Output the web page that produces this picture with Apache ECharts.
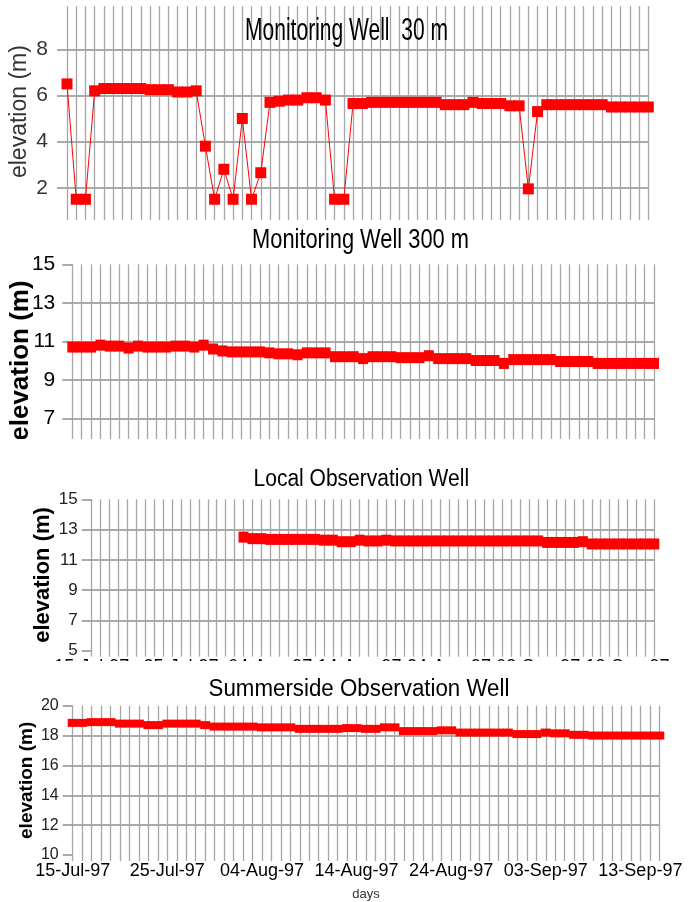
<!DOCTYPE html>
<html>
<head>
<meta charset="utf-8">
<script src="https://cdn.jsdelivr.net/npm/echarts@6/dist/echarts.min.js"></script>
<style>
html,body{margin:0;padding:0;background:#fff;}
#c{width:697px;height:902px;}
</style>
</head>
<body>
<div id="c"></div>
<script>
// ---------- data ----------
const dates = [
  '15-Jul-97','16-Jul-97','17-Jul-97','18-Jul-97','19-Jul-97','20-Jul-97','21-Jul-97','22-Jul-97','23-Jul-97',
  '24-Jul-97','25-Jul-97','26-Jul-97','27-Jul-97','28-Jul-97','29-Jul-97','30-Jul-97','31-Jul-97',
  '01-Aug-97','02-Aug-97','03-Aug-97','04-Aug-97','05-Aug-97','06-Aug-97','07-Aug-97','08-Aug-97','09-Aug-97',
  '10-Aug-97','11-Aug-97','12-Aug-97','13-Aug-97','14-Aug-97','15-Aug-97','16-Aug-97','17-Aug-97','18-Aug-97',
  '19-Aug-97','20-Aug-97','21-Aug-97','22-Aug-97','23-Aug-97','24-Aug-97','25-Aug-97','26-Aug-97','27-Aug-97',
  '28-Aug-97','29-Aug-97','30-Aug-97','31-Aug-97',
  '01-Sep-97','02-Sep-97','03-Sep-97','04-Sep-97','05-Sep-97','06-Sep-97','07-Sep-97','08-Sep-97','09-Sep-97',
  '10-Sep-97','11-Sep-97','12-Sep-97','13-Sep-97','14-Sep-97','15-Sep-97','16-Sep-97'
];

const well30 = [
  6.5, 1.5, 1.5, 6.2, 6.3, 6.3, 6.3, 6.3, 6.3, 6.25,
  6.25, 6.25, 6.15, 6.15, 6.2, 3.8, 1.5, 2.8, 1.5, 5.0,
  1.5, 2.65, 5.7, 5.75, 5.8, 5.8, 5.9, 5.9, 5.8, 1.5,
  1.5, 5.65, 5.65, 5.7, 5.7, 5.7, 5.7, 5.7, 5.7, 5.7,
  5.7, 5.6, 5.6, 5.6, 5.7, 5.65, 5.65, 5.65, 5.55, 5.55,
  1.95, 5.3, 5.6, 5.6, 5.6, 5.6, 5.6, 5.6, 5.6, 5.5,
  5.5, 5.5, 5.5, 5.5
];

const well300 = [
  10.7, 10.7, 10.7, 10.8, 10.75, 10.75, 10.65, 10.75, 10.7, 10.7,
  10.7, 10.75, 10.75, 10.7, 10.8, 10.6, 10.5, 10.45, 10.45, 10.45,
  10.45, 10.4, 10.35, 10.35, 10.3, 10.4, 10.4, 10.4, 10.2, 10.2,
  10.2, 10.1, 10.2, 10.2, 10.2, 10.15, 10.15, 10.15, 10.25, 10.1,
  10.1, 10.1, 10.1, 10.0, 10.0, 10.0, 9.85, 10.05, 10.05, 10.05,
  10.05, 10.05, 9.95, 9.95, 9.95, 9.95, 9.85, 9.85, 9.85, 9.85,
  9.85, 9.85, 9.85
];

const localWell = [
  null, null, null, null, null, null, null, null, null, null,
  null, null, null, null, null, null, null, 12.5, 12.4, 12.4,
  12.35, 12.35, 12.35, 12.35, 12.35, 12.35, 12.3, 12.3, 12.2, 12.2,
  12.3, 12.25, 12.25, 12.3, 12.25, 12.25, 12.25, 12.25, 12.25, 12.25,
  12.25, 12.25, 12.25, 12.25, 12.25, 12.25, 12.25, 12.25, 12.25, 12.25,
  12.25, 12.15, 12.15, 12.15, 12.15, 12.2, 12.05, 12.05, 12.05, 12.05,
  12.05, 12.05, 12.05, 12.05
];

const summerside = [
  18.85, 18.85, 18.9, 18.9, 18.9, 18.8, 18.8, 18.8, 18.7, 18.7,
  18.8, 18.8, 18.8, 18.8, 18.7, 18.6, 18.6, 18.6, 18.6, 18.6,
  18.55, 18.55, 18.55, 18.55, 18.45, 18.45, 18.45, 18.45, 18.45, 18.5,
  18.5, 18.45, 18.45, 18.55, 18.55, 18.3, 18.3, 18.3, 18.3, 18.35,
  18.35, 18.2, 18.2, 18.2, 18.2, 18.2, 18.2, 18.1, 18.1, 18.1,
  18.2, 18.15, 18.15, 18.05, 18.05, 18.0, 18.0, 18.0, 18.0, 18.0,
  18.0, 18.0, 18.0
];

const well30Ticks = [2, 4, 6, 8, 10];
const well30Labels = [2, 4, 6, 8];

const titles = ['Monitoring Well  30 m', 'Monitoring Well 300 m', 'Local Observation Well', 'Summerside Observation Well'];
const yName = 'elevation (m)';
const xName = 'days';

// ---------- styles ----------
const VGRID = '#a6a6a6';
const HGRID = '#8e8e8e';
const RED = '#ff0000';

function xAxis(gi, n, extra) {
  return Object.assign({
    type: 'category', gridIndex: gi, data: dates.slice(0, n), boundaryGap: false,
    axisLine: { show: false },
    axisTick: { show: true, interval: 0, length: 6, lineStyle: { color: VGRID, width: 1.3 } },
    splitLine: { show: true, interval: 0, lineStyle: { color: VGRID, width: 1.3 } },
    axisLabel: { show: false }
  }, extra || {});
}

function yAxis(gi, extra) {
  const base = {
    type: 'value', gridIndex: gi,
    axisLine: { show: false },
    axisTick: { show: true, length: 10, lineStyle: { color: HGRID, width: 1.5 } },
    splitLine: { show: true, showMinLine: false, showMaxLine: false, lineStyle: { color: HGRID, width: 1.5 } },
    name: yName, nameLocation: 'middle', nameMoveOverlap: false
  };
  return Object.assign(base, extra);
}

function lineSeries(xi, data, size) {
  return {
    type: 'line', xAxisIndex: xi, yAxisIndex: xi, data: data,
    symbol: 'rect', symbolSize: size, showAllSymbol: true,
    lineStyle: { color: RED, width: 1 }, itemStyle: { color: RED },
    connectNulls: false, animation: false, silent: true
  };
}

const xLabelStyle = { show: true, interval: 9, fontFamily: '"Liberation Sans Narrow", "Liberation Sans", Arial', fontSize: 18, color: '#000', margin: 7 };

const option = {
  animation: false,
  backgroundColor: '#fff',
  grid: [
    { left: 63.3, right: 48.7, top: 3.2, bottom: 682 },
    { left: 72.3, right: 43, top: 264.3, bottom: 445.2 },
    { left: 91.7, right: 42.7, top: 499.3, bottom: 251.3 },
    { left: 72.7, right: 37.7, top: 705.7, bottom: 46.3 }
  ],
  xAxis: [
    xAxis(0, 64, { axisTick: { show: false } }),
    xAxis(1, 63),
    xAxis(2, 64, { axisLabel: xLabelStyle }),
    xAxis(3, 63, { axisLabel: xLabelStyle, name: xName, nameLocation: 'middle', nameGap: 33, nameMoveOverlap: false,
                   nameTextStyle: { fontSize: 13, color: '#333', fontFamily: '"Liberation Sans", Arial' } })
  ],
  yAxis: [
    yAxis(0, { min: 0.6, max: 10, splitNumber: 5,
      axisTick: { show: true, length: 10, customValues: well30Ticks, lineStyle: { color: HGRID, width: 1.5 } },
      splitLine: { show: true, showMinLine: true, showMaxLine: false, lineStyle: { color: HGRID, width: 1.5 } },
      axisLabel: { customValues: well30Labels, margin: 19, fontSize: 21, color: '#333', fontFamily: '"Liberation Sans", Arial' },
      nameGap: 36, nameTextStyle: { fontSize: 23, color: '#333', fontFamily: '"Liberation Sans", Arial' } }),
    yAxis(1, { min: 5, max: 15, interval: 2,
      axisLabel: { margin: 17, fontSize: 21, color: '#000', fontFamily: '"Liberation Sans Narrow", "Liberation Sans", Arial' },
      nameGap: 38, nameTextStyle: { fontSize: 26, fontWeight: 'bold', color: '#000', fontFamily: '"Liberation Sans", Arial' } }),
    yAxis(2, { min: 5, max: 15, interval: 2,
      axisLabel: { margin: 14, fontSize: 17, color: '#222', fontFamily: '"Liberation Sans", Arial' },
      nameGap: 38, nameTextStyle: { fontSize: 22, fontWeight: 'bold', color: '#000', fontFamily: '"Liberation Sans", Arial' } }),
    yAxis(3, { min: 10, max: 20, interval: 2,
      axisLabel: { margin: 14, fontSize: 16, color: '#222', fontFamily: '"Liberation Sans", Arial' },
      nameGap: 36, nameTextStyle: { fontSize: 19, fontWeight: 'bold', color: '#000', fontFamily: '"Liberation Sans", Arial' } })
  ],
  series: [
    lineSeries(0, well30, 11),
    lineSeries(1, well300, [10, 11]),
    lineSeries(2, localWell, [10, 11]),
    lineSeries(3, summerside, [10, 8])
  ],
  graphic: [
    // white masks reproducing the cropped edges of the original panels
    { type: 'rect', z: 100, shape: { x: 0, y: 0, width: 697, height: 6 }, style: { fill: '#fff' } },
    { type: 'rect', z: 100, shape: { x: 0, y: 439, width: 697, height: 24 }, style: { fill: '#fff' } },
    { type: 'rect', z: 100, shape: { x: 0, y: 661, width: 697, height: 19 }, style: { fill: '#fff' } },
    // panel titles
    { type: 'text', z: 101, x: 346.5, y: 31.5, scaleX: 0.657,
      style: { text: titles[0], font: '32px "Liberation Sans", Arial', fill: '#000', textAlign: 'center', textVerticalAlign: 'middle', align: 'center', verticalAlign: 'middle' } },
    { type: 'text', z: 101, x: 360.5, y: 240, scaleX: 0.78,
      style: { text: titles[1], font: '28px "Liberation Sans", Arial', fill: '#000', textAlign: 'center', textVerticalAlign: 'middle', align: 'center', verticalAlign: 'middle' } },
    { type: 'text', z: 101, x: 361.3, y: 480, scaleX: 0.913,
      style: { text: titles[2], font: '23px "Liberation Sans", Arial', fill: '#000', textAlign: 'center', textVerticalAlign: 'middle', align: 'center', verticalAlign: 'middle' } },
    { type: 'text', z: 101, x: 359, y: 690, scaleX: 0.97,
      style: { text: titles[3], font: '23px "Liberation Sans", Arial', fill: '#000', textAlign: 'center', textVerticalAlign: 'middle', align: 'center', verticalAlign: 'middle' } }
  ]
};

const chart = echarts.init(document.getElementById('c'), null, { renderer: 'canvas' });
chart.setOption(option);
</script>
</body>
</html>
